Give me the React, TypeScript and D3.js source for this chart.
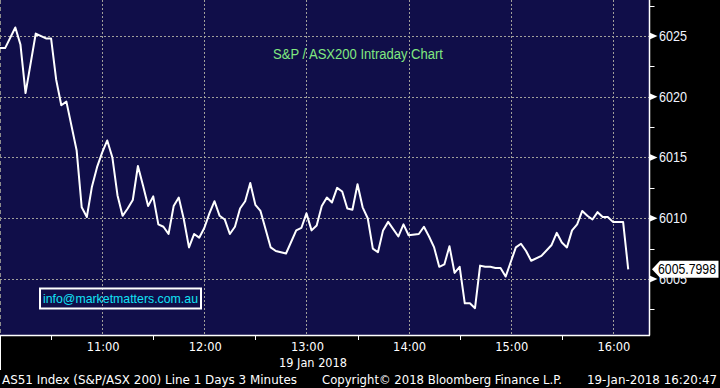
import React from "react";
import * as d3 from "d3";

// 3 minute bars, AS51 intraday 19 Jan 2018 (only the turning points)
const times = [
  "10:00", "10:03", "10:09", "10:12", "10:15", "10:21", "10:27", "10:30", "10:33", "10:36",
  "10:39", "10:45", "10:48", "10:51", "10:54", "10:57", "11:00", "11:03", "11:06", "11:09",
  "11:12", "11:15", "11:18", "11:21", "11:24", "11:27", "11:30", "11:33", "11:36", "11:39",
  "11:42", "11:45", "11:48", "11:51", "11:54", "11:57", "12:00", "12:03", "12:06", "12:09",
  "12:12", "12:15", "12:18", "12:21", "12:24", "12:27", "12:30", "12:33", "12:39", "12:42",
  "12:48", "12:54", "12:57", "13:00", "13:03", "13:06", "13:09", "13:12", "13:15", "13:18",
  "13:21", "13:24", "13:27", "13:30", "13:33", "13:36", "13:39", "13:42", "13:45", "13:48",
  "13:54", "13:57", "14:00", "14:06", "14:09", "14:12", "14:15", "14:18", "14:21", "14:24",
  "14:27", "14:30", "14:33", "14:36", "14:39", "14:42", "14:45", "14:48", "14:51", "14:54",
  "14:57", "15:00", "15:03", "15:06", "15:09", "15:12", "15:18", "15:24", "15:27", "15:30",
  "15:33", "15:36", "15:39", "15:42", "15:45", "15:48", "15:51", "15:54", "15:57", "16:00",
  "16:06", "16:09",
];
const prices = [
  6024.0, 6024.0, 6025.7, 6024.3, 6020.3, 6025.2, 6024.8, 6024.8, 6021.4, 6019.3,
  6019.6, 6015.6, 6010.9, 6010.1, 6012.6, 6014.2, 6015.4, 6016.4, 6015.0, 6011.9,
  6010.2, 6010.8, 6011.5, 6014.3, 6012.7, 6011.0, 6011.8, 6009.5, 6009.3, 6008.7,
  6011.0, 6011.7, 6009.9, 6007.6, 6008.7, 6008.4, 6009.2, 6010.4, 6011.4, 6010.2,
  6009.9, 6008.7, 6009.3, 6010.8, 6011.4, 6012.9, 6011.1, 6010.6, 6007.6, 6007.3,
  6007.1, 6009.0, 6009.2, 6010.4, 6009.0, 6009.4, 6011.0, 6011.7, 6011.3, 6012.5,
  6012.2, 6010.8, 6010.7, 6012.8, 6010.9, 6010.0, 6007.5, 6007.2, 6009.0, 6009.7,
  6008.5, 6009.5, 6008.6, 6008.7, 6009.3, 6008.5, 6007.6, 6006.0, 6006.2, 6007.7,
  6005.5, 6006.0, 6003.0, 6003.0, 6002.6, 6006.1, 6006.0, 6006.0, 6005.9, 6005.9,
  6005.2, 6006.4, 6007.6, 6007.9, 6007.3, 6006.5, 6006.9, 6007.8, 6008.8, 6008.0,
  6007.6, 6009.0, 6009.5, 6010.6, 6010.2, 6009.9, 6010.5, 6010.1, 6010.1, 6009.7,
  6009.7, 6005.7998,
];
const lastPrice = "6005.7998";

const hourTicks = ["11:00", "12:00", "13:00", "14:00", "15:00", "16:00"];
const halfHourTicks = ["10:30", "11:30", "12:30", "13:30", "14:30", "15:30"];
const priceTicks = [6005, 6010, 6015, 6020, 6025];
const minorPriceTicks = [6002.5, 6007.5, 6012.5, 6017.5, 6022.5, 6027.5];

const title = "S&P / ASX200 Intraday Chart";
const email = "info@marketmatters.com.au";
const dateLabel = "19 Jan 2018";
const footerLeft = "AS51 Index (S&P/ASX 200) Line 1 Days 3 Minutes";
const footerMid = "Copyright\u00a9 2018 Bloomberg Finance L.P.";
const footerRight = "19-Jan-2018 16:20:47";

const W = 720;
const H = 388;
const plotW = 649.5;
const plotH = 335.5;
const parse = d3.timeParse("%H:%M");

export default function App() {
  const x = d3.scaleTime()
    .domain([parse("10:00")!, d3.timeParse("%H:%M:%S")("16:21:30")!])
    .range([0, plotW]);
  const y = d3.scaleLinear().domain([6000.35, 6027.96]).range([plotH, 0]);

  const data = times.map((t, i) => ({ t: parse(t)!, v: prices[i] }));
  const line = d3.line<{ t: Date; v: number }>()
    .x(d => x(d.t))
    .y(d => y(d.v));

  const px = (v: number) => Math.round(v) + 0.5;
  const lastY = y(prices[prices.length - 1]);
  const font = "'Liberation Sans', Arial, sans-serif";
  const condensed = "'DejaVu Sans Condensed', 'DejaVu Sans', sans-serif";

  return (
    <svg width={W} height={H} style={{ position: "absolute", left: 0, top: 0, display: "block" }}
      fontFamily={font}>
      <rect width={W} height={H} fill="#000" />
      <rect width={plotW} height={plotH} fill="#100e49" />

      {/* grid */}
      {hourTicks.map(t => (
        <line key={t} x1={px(x(parse(t)!))} x2={px(x(parse(t)!))} y1={0} y2={plotH}
          stroke="#a09f9a" strokeDasharray="2,2" />
      ))}
      {priceTicks.map(p => (
        <line key={p} x1={0} x2={plotW} y1={px(y(p))} y2={px(y(p))}
          stroke="#a09f9a" strokeDasharray="2,2" />
      ))}
      <line x1={0.5} x2={0.5} y1={0} y2={plotH} stroke="#8c8c8c" strokeDasharray="4,3" />

      {/* series */}
      <path d={line(data) ?? ""} fill="none" stroke="#fff" strokeWidth={2} strokeLinejoin="round" />

      <text x={273} y={59} fill="#80e880" fontSize={14} textLength={170} lengthAdjust="spacingAndGlyphs">
        {title}
      </text>

      <rect x={40} y={288.5} width={161} height={20} fill="none" stroke="#fff" strokeWidth={2} />
      <text x={43} y={303} fill="#12e2f5" fontSize={13} textLength={155} lengthAdjust="spacingAndGlyphs">
        {email}
      </text>

      {/* axes frame */}
      <line x1={0} x2={plotW + 0.5} y1={plotH} y2={plotH} stroke="#fff" strokeWidth={1.5} />
      <line x1={plotW} x2={plotW} y1={0} y2={plotH} stroke="#fff" strokeWidth={1.5} />
      <line x1={0.5} x2={0.5} y1={plotH} y2={370} stroke="#fff" />

      {/* bottom axis */}
      {halfHourTicks.map(t => (
        <line key={t} x1={px(x(parse(t)!))} x2={px(x(parse(t)!))} y1={plotH} y2={plotH + 4.5} stroke="#fff" />
      ))}
      {hourTicks.map(t => (
        <text key={t} x={x(parse(t)!) + 1} y={351} fill="#fff" fontSize={13} fontFamily={condensed}
          textAnchor="middle" textLength={33} lengthAdjust="spacingAndGlyphs">
          {t}
        </text>
      ))}
      <text x={313} y={367} fill="#fff" fontSize={13} fontFamily={condensed} textAnchor="middle"
        textLength={68} lengthAdjust="spacingAndGlyphs">
        {dateLabel}
      </text>

      {/* right axis */}
      {minorPriceTicks.map(p => (
        <line key={p} x1={plotW} x2={plotW + 5} y1={px(y(p))} y2={px(y(p))} stroke="#fff" />
      ))}
      {priceTicks.map(p => {
        const yy = y(p);
        return (
          <g key={p}>
            <path d={`M${plotW},${yy - 3.5}L${plotW + 8},${yy}L${plotW},${yy + 3.5}Z`} fill="#fff" />
            <text x={659} y={yy + 5} fill="#f0f4ff" fontSize={14} textLength={28}
              lengthAdjust="spacingAndGlyphs">
              {p}
            </text>
          </g>
        );
      })}

      {/* last value flag */}
      <path
        d={`M${652},${lastY}L${660},${lastY - 8.5}L${718.5},${lastY - 8.5}L${718.5},${lastY + 8.5}L${660},${lastY + 8.5}Z`}
        fill="#fff" />
      <text x={658} y={lastY + 5} fill="#000" fontSize={14} textLength={58} lengthAdjust="spacingAndGlyphs">
        {lastPrice}
      </text>

      {/* footer */}
      <g fontFamily={condensed} fontSize={13} fill="#fff">
        <text x={2} y={384} textLength={295} lengthAdjust="spacingAndGlyphs">{footerLeft}</text>
        <text x={322} y={384} textLength={240} lengthAdjust="spacingAndGlyphs">{footerMid}</text>
        <text x={587} y={384} textLength={130} lengthAdjust="spacingAndGlyphs">{footerRight}</text>
      </g>
    </svg>
  );
}
